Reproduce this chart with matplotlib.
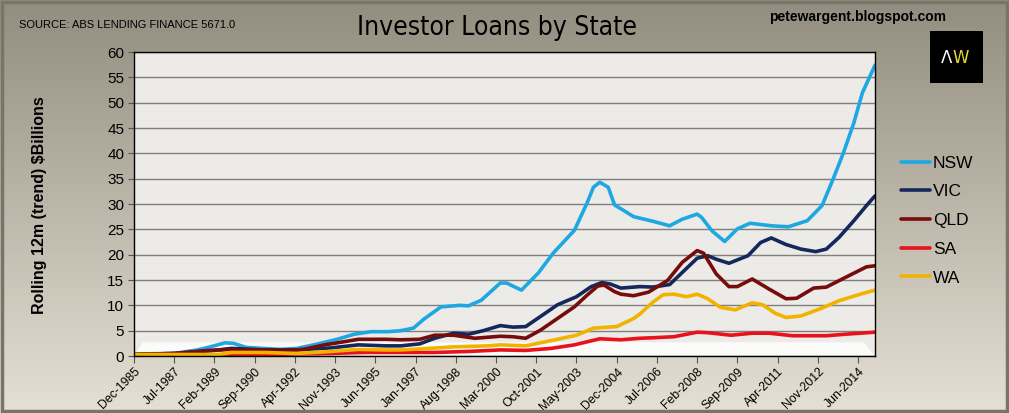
import matplotlib
matplotlib.use("Agg")
import matplotlib.pyplot as plt
import numpy as np
from matplotlib.patches import Rectangle, Polygon

# months since Dec-1985 ($bn, rolling 12m)
nsw_m = [0, 19, 30, 36, 43, 47, 53, 61, 69, 77, 87, 96, 104, 112, 120, 126, 132, 137, 145, 154, 158, 164,
         173, 176, 183, 191, 198, 208, 214, 217, 220, 224, 227, 231, 236, 245, 253, 259, 266, 268, 273,
         279, 285, 291, 301, 309, 318, 325, 330, 335, 340, 344, 350]
nsw_v = [0.4, 0.5, 1.2, 1.8, 2.6, 2.5, 1.7, 1.5, 1.3, 1.5, 2.4, 3.3, 4.3, 4.8, 4.8, 5.0, 5.5, 7.3, 9.7, 10.0, 9.9, 11.0,
         14.4, 14.4, 13.0, 16.4, 20.3, 24.8, 30.2, 33.3, 34.3, 33.3, 29.8, 28.8, 27.5, 26.6, 25.7, 27.0, 28.0, 27.4, 24.7,
         22.6, 25.1, 26.2, 25.7, 25.5, 26.7, 29.7, 34.7, 40.0, 46.0, 51.9, 57.4]

vic_m = [0, 19, 38, 46, 61, 77, 93, 106, 119, 126, 135, 142, 151, 158, 165, 173, 179, 185, 192, 200, 209, 216,
         221, 225, 230, 239, 245, 253, 259, 266, 271, 275, 281, 290, 296, 301, 308, 315, 322, 327, 333, 340, 346, 350]
vic_v = [0.3, 0.5, 1.1, 1.5, 1.2, 1.2, 1.6, 2.2, 2.0, 2.0, 2.4, 3.5, 4.5, 4.3, 5.0, 6.0, 5.7, 5.8, 7.8, 10.1, 11.7, 13.7,
         14.5, 14.2, 13.4, 13.7, 13.6, 14.1, 16.5, 19.3, 19.8, 19.1, 18.3, 19.8, 22.4, 23.3, 22.0, 21.1, 20.6, 21.1, 23.4,
         26.7, 29.7, 31.6]

qld_m = [0, 19, 35, 46, 61, 72, 80, 90, 99, 106, 119, 126, 135, 142, 151, 161, 173, 179, 185, 192, 200, 208, 214,
         219, 222, 227, 230, 236, 243, 252, 259, 266, 269, 275, 281, 285, 292, 300, 308, 313, 321, 327, 336, 346, 350]
qld_v = [0.3, 0.5, 1.1, 1.3, 1.2, 1.1, 1.3, 2.2, 2.8, 3.3, 3.3, 3.2, 3.3, 4.1, 4.1, 3.5, 3.9, 3.8, 3.5, 5.1, 7.4, 9.7, 12.0,
         13.8, 14.0, 12.7, 12.2, 11.9, 12.6, 14.9, 18.5, 20.8, 20.3, 16.2, 13.7, 13.7, 15.2, 13.2, 11.3, 11.4, 13.4, 13.6,
         15.5, 17.6, 17.8]

sa_m = [0, 40, 61, 93, 109, 131, 142, 158, 173, 185, 197, 208, 220, 230, 239, 245, 255, 266, 271, 282, 292, 300,
        311, 327, 336, 350]
sa_v = [0.1, 0.2, 0.3, 0.5, 0.7, 0.7, 0.7, 0.9, 1.2, 1.1, 1.5, 2.2, 3.4, 3.2, 3.5, 3.6, 3.8, 4.7, 4.6, 4.1, 4.5, 4.5,
        4.0, 4.0, 4.3, 4.7]

wa_m = [0, 40, 46, 61, 77, 93, 106, 119, 126, 135, 151, 167, 173, 185, 192, 200, 209, 217, 228, 236, 239, 245, 250,
        255, 261, 266, 271, 277, 284, 292, 297, 303, 308, 315, 324, 333, 343, 350]
wa_v = [0.3, 0.3, 0.7, 0.7, 0.5, 0.9, 1.3, 1.2, 1.2, 1.4, 1.8, 2.0, 2.2, 2.0, 2.6, 3.3, 4.1, 5.5, 5.8, 7.4, 8.3, 10.6, 12.1,
        12.2, 11.7, 12.2, 11.3, 9.6, 9.1, 10.5, 10.1, 8.4, 7.6, 7.9, 9.3, 10.9, 12.2, 13.0]

tick_labels = ["Dec-1985", "Jul-1987", "Feb-1989", "Sep-1990", "Apr-1992", "Nov-1993", "Jun-1995",
               "Jan-1997", "Aug-1998", "Mar-2000", "Oct-2001", "May-2003", "Dec-2004", "Jul-2006",
               "Feb-2008", "Sep-2009", "Apr-2011", "Nov-2012", "Jun-2014"]

series = [
    ("NSW", nsw_m, nsw_v, "#1fa7e1"),
    ("VIC", vic_m, vic_v, "#14285c"),
    ("QLD", qld_m, qld_v, "#760c0c"),
    ("SA", sa_m, sa_v, "#e8121c"),
    ("WA", wa_m, wa_v, "#f2b300"),
]

plt.rcParams["font.family"] = ["Liberation Sans", "DejaVu Sans"]

fig = plt.figure(figsize=(10.09, 4.13), dpi=100)

# background gradient for the whole chart area
bg = fig.add_axes([0, 0, 1, 1], zorder=-10)
grad = np.linspace(0, 1, 256).reshape(-1, 1)
top = np.array([0x93, 0x8d, 0x7f]) / 255
bot = np.array([0xe4, 0xe0, 0xd3]) / 255
img = top + (bot - top) * grad[:, :, None]
bg.imshow(img, aspect="auto", extent=[0, 1, 0, 1])
bg.set_axis_off()
fig.patches.append(Rectangle((0.002, 0.004), 0.996, 0.99, transform=fig.transFigure,
                             fill=False, edgecolor="#7a7468", lw=2.5))

ax = fig.add_axes([134 / 1009, (413 - 356) / 413, 741 / 1009, 304 / 413])
ax.set_facecolor("#ecebe7")

# white floor strip of the 3D plot area
ax.add_patch(Polygon([(0, 0), (0.012, 0.045), (0.985, 0.045), (1, 0)], closed=True,
                     transform=ax.transAxes, facecolor="#fbfbfa", edgecolor="none", zorder=1))

for name, m, v, c in series:
    ax.plot(m, v, color=c, lw=2.6, label=name, zorder=3, solid_capstyle="round")

ax.set_xlim(0, 350)
ax.set_ylim(0, 60)
ax.set_yticks(range(0, 61, 5))
ax.set_xticks(range(0, 19 * len(tick_labels), 19))
ax.set_xticklabels(tick_labels, rotation=45, ha="right", rotation_mode="anchor", fontsize=8.8)
ax.tick_params(axis="y", labelsize=11, length=4, color="#555555", pad=3)
ax.tick_params(axis="x", length=5, color="#555555", pad=2)
ax.yaxis.grid(True, color="#7f7f7f", lw=1, zorder=2)
ax.set_axisbelow(False)
for s in ax.spines.values():
    s.set_color("black")
    s.set_linewidth(1)
    s.set_zorder(4)

fig.text(40 / 1009, 1 - 205 / 413, "Rolling 12m (trend) $Billions", rotation=90,
         ha="center", va="center", fontsize=11.5, fontweight="bold")

fig.text(19 / 1009, 1 - 25 / 413, "SOURCE: ABS LENDING FINANCE 5671.0", fontsize=8,
         ha="left", va="center")
fig.text(497 / 1009, 1 - 28 / 413, "Investor Loans by State", fontsize=19,
         family="DejaVu Sans", fontstretch="condensed", ha="center", va="center")
fig.text(858 / 1009, 1 - 17 / 413, "petewargent.blogspot.com", fontsize=10, fontweight="bold",
         ha="center", va="center")

# AW logo box
fig.patches.append(Rectangle((930 / 1009, 1 - 83 / 413), 53 / 1009, 52 / 413,
                             transform=fig.transFigure, facecolor="black", edgecolor="none"))
fig.text(946.5 / 1009, 1 - 58 / 413, "Λ", color="white", fontsize=12, ha="center", va="center",
         family="DejaVu Sans")
fig.text(960.5 / 1009, 1 - 58 / 413, "W", color="#e6dc2a", fontsize=12, ha="center", va="center",
         family="DejaVu Sans")

leg = ax.legend(loc="upper left", bbox_to_anchor=(885 / 1009, 1 - 140 / 413),
                bbox_transform=fig.transFigure, frameon=False, fontsize=12.5,
                handlelength=1.7, handletextpad=0.15, labelspacing=0.78)
for line in leg.get_lines():
    line.set_linewidth(2.6)

fig.savefig("out.png", dpi=100)
